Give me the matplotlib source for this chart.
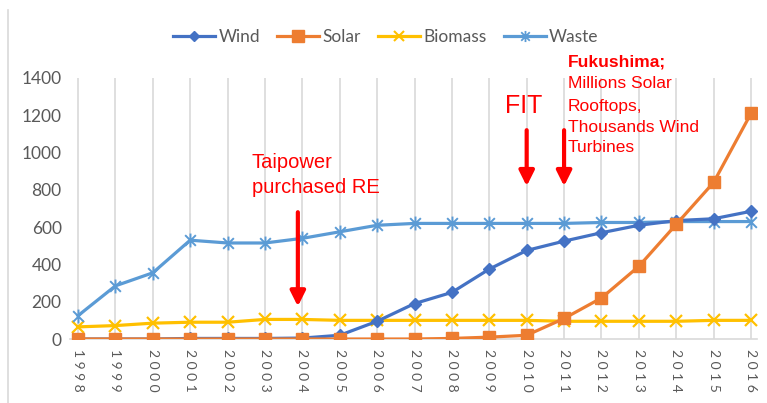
import matplotlib.pyplot as plt
import numpy as np
from matplotlib.path import Path
from matplotlib.lines import Line2D

years = list(range(1998, 2017))
wind = [0, 0, 0, 3, 3, 3, 5, 20, 95, 190, 250, 375, 475, 525, 570, 610, 635, 645, 685]
solar = [0, 0, 0, 0, 0, 0, 0, 0, 0, 0, 3, 10, 20, 110, 220, 390, 615, 840, 1210]
biomass = [65, 72, 85, 90, 90, 105, 105, 100, 100, 100, 100, 100, 100, 95, 95, 95, 95, 100, 100]
waste = [125, 285, 355, 530, 515, 515, 540, 575, 610, 620, 620, 620, 620, 620, 625, 625, 630, 630, 630]

W, H = 767, 403
fig = plt.figure(figsize=(W / 100, H / 100), dpi=100)
# axes box in pixel terms: x 70..757, y 78..339 (from top)
ax = fig.add_axes([70 / W, 1 - 339 / H, 687 / W, 261 / H])


def px(x, y):
    # pixel position (from top-left) -> figure fraction
    return x / W, 1 - y / H


# excel-style star marker: an x with a vertical stroke
star = Path([(-1, -1), (1, 1), (-1, 1), (1, -1), (0, -1.3), (0, 1.3)],
            [Path.MOVETO, Path.LINETO, Path.MOVETO, Path.LINETO, Path.MOVETO, Path.LINETO])

lw = 2.3
ax.plot(years, biomass, color='#FFC000', lw=lw, marker='x', ms=8, mew=1.6, label='Biomass', zorder=3)
ax.plot(years, waste, color='#5B9BD5', lw=lw, marker=star, ms=10, mew=1.4, label='Waste', zorder=3)
ax.plot(years, wind, color='#4472C4', lw=lw, marker='D', ms=6, label='Wind', zorder=4)
ax.plot(years, solar, color='#ED7D31', lw=lw, marker='s', ms=8.5, label='Solar', zorder=5)

ax.set_xlim(1997.786, 2016.16)
ax.set_ylim(0, 1400)
ax.set_yticks(range(0, 1401, 200))
ax.set_yticklabels([str(v) for v in range(0, 1401, 200)], fontsize=12.5, color='#595959', family='Lato')
ax.set_xticks(years)
ax.set_xticklabels([' '.join(str(y)) for y in years], rotation=-90, fontsize=10,
                   color='#595959', family='Lato', va='top', ha='center')
ax.tick_params(length=0, pad=6)
ax.tick_params(axis='x', pad=7)
for y in years:
    ax.axvline(y, color='#D9D9D9', lw=1.2, zorder=0)
for s in ['left', 'right', 'top']:
    ax.spines[s].set_visible(False)
ax.spines['bottom'].set_color('#D9D9D9')
ax.spines['bottom'].set_linewidth(1.2)

handles = [
    Line2D([], [], color='#4472C4', lw=lw, marker='D', ms=5),
    Line2D([], [], color='#ED7D31', lw=lw, marker='s', ms=8),
    Line2D([], [], color='#FFC000', lw=lw, marker='x', ms=7, mew=1.5),
    Line2D([], [], color='#5B9BD5', lw=lw, marker=star, ms=8, mew=1.3),
]
leg = fig.legend(handles, ['Wind', 'Solar', 'Biomass', 'Waste'], loc='center',
                 bbox_to_anchor=px(386, 37), ncol=4, frameon=False,
                 prop={'family': 'Lato', 'size': 12.5}, handlelength=2.4,
                 handletextpad=0.2, columnspacing=1.0)
for t in leg.get_texts():
    t.set_color('#595959')

red = '#FF0000'
arrow = dict(arrowstyle='-|>,head_length=0.9,head_width=0.45', color=red, lw=3)
ax.annotate('', xy=(2003.88, 160), xytext=(2003.88, 695), arrowprops=arrow)
ax.annotate('', xy=(2010, 805), xytext=(2010, 1135), arrowprops=arrow)
ax.annotate('', xy=(2011, 805), xytext=(2011, 1135), arrowprops=arrow)

sans = 'Liberation Sans'
fig.text(*px(252, 162), 'Taipower', color=red, fontsize=14.5, family=sans, va='center', ha='left')
fig.text(*px(252, 187), 'purchased RE', color=red, fontsize=14.5, family=sans, va='center', ha='left')
fig.text(*px(524, 106), 'FIT', color=red, fontsize=18, family=sans, va='center', ha='center')

fuku = [('Fukushima;', 62, 'bold'), ('Millions Solar', 84, 'normal'), ('Rooftops,', 106, 'normal'),
        ('Thousands Wind', 127, 'normal'), ('Turbines', 147, 'normal')]
for line, yy, wt in fuku:
    fig.text(*px(568, yy), line, color=red, fontsize=12.5, fontweight=wt,
             family=sans, va='center', ha='left')

# thin frame line on the left edge
fig.add_artist(Line2D([8 / W, 8 / W], [0, 1 - 10 / H], color='#D9D9D9', lw=1.2))

fig.savefig('out.png', dpi=100)
